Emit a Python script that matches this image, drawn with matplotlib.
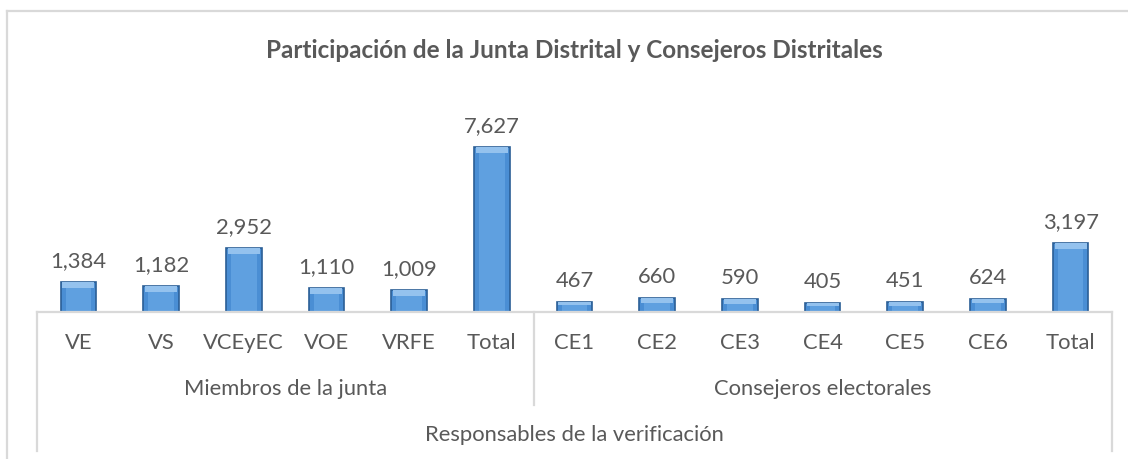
import numpy as np
import matplotlib
matplotlib.use("Agg")
import matplotlib.pyplot as plt
from matplotlib.lines import Line2D

# data
junta_labels = ["VE", "VS", "VCEyEC", "VOE", "VRFE", "Total"]
junta_values = [1384, 1182, 2952, 1110, 1009, 7627]
consejo_labels = ["CE1", "CE2", "CE3", "CE4", "CE5", "CE6", "Total"]
consejo_values = [467, 660, 590, 405, 451, 624, 3197]
group_labels = ["Miembros de la junta", "Consejeros electorales"]
outer_label = "Responsables de la verificación"
title = "Participación de la Junta Distrital y Consejeros Distritales"

labels = junta_labels + consejo_labels
values = np.array(junta_values + consejo_values, dtype=float)
x = np.arange(len(labels))

W, H = 1128, 459
fig = plt.figure(figsize=(W / 100, H / 100), dpi=100)
plt.rcParams['font.family'] = ['Lato', 'DejaVu Sans']
gray = "#595959"
line_gray = "#D9D9D9"
fs = 15.8

# axes: baseline at y=312px, from x=37 to 1112
ax_left, ax_right = 37 / W, 1112 / W
ax_bottom = 1 - 312 / H
ymax = 9000
px_per_unit = 165 / 7627
ax_h = ymax * px_per_unit / H
ax = fig.add_axes([ax_left, ax_bottom, ax_right - ax_left, ax_h])
ax.set_xlim(-0.5, len(labels) - 0.5)
ax.set_ylim(0, ymax)
ax.axis("off")

bw = 0.43
unit = 1 / px_per_unit  # data units per pixel
# main bars with darker edges
ax.bar(x, values, width=bw, color="#4A8ED4", edgecolor="#2B5F96", linewidth=1.2, zorder=2)
# inner lighter face
ax.bar(x, values - 3 * unit, width=bw * 0.72, color="#5FA0E0", linewidth=0, zorder=3)
# light top bevel
bev = np.minimum(6 * unit, values * 0.35)
ax.bar(x, bev, bottom=values - bev, width=bw * 0.9, color="#94C2EE", linewidth=0, zorder=4)

for xi, v in zip(x, values):
    ax.text(xi, v + 11 * unit, f"{int(v):,}", ha="center", va="bottom",
            fontsize=fs, color=gray, clip_on=False)

# frame and category axis lines in figure coords
def fx(px):
    return px / W

def fy(py):
    return 1 - py / H

lines = [
    ((7, 7), (11, 459)),        # outer frame left
    ((7, 1128), (11, 11)),      # outer frame top
    ((37, 1112), (312, 312)),   # baseline
    ((37, 37), (312, 451)),     # left
    ((1112, 1112), (312, 451)), # right
    ((534, 534), (312, 405)),   # group separator
]
for (x0, x1), (y0, y1) in lines:
    fig.add_artist(Line2D([fx(x0), fx(x1)], [fy(y0), fy(y1)], color=line_gray, linewidth=1.6))

# category labels
for xi, lab in zip(x, labels):
    xf = ax.transData.transform((xi, 0))[0] / W
    fig.text(xf, fy(343), lab, ha="center", va="center", fontsize=fs, color=gray)

# group labels
n1 = len(junta_labels)
g1 = ax.transData.transform(((n1 - 1) / 2, 0))[0] / W
g2 = ax.transData.transform((n1 + (len(consejo_labels) - 1) / 2, 0))[0] / W
fig.text(g1, fy(389), group_labels[0], ha="center", va="center", fontsize=fs, color=gray)
fig.text(g2, fy(389), group_labels[1], ha="center", va="center", fontsize=fs, color=gray)
fig.text((fx(37) + fx(1112)) / 2, fy(435), outer_label, ha="center", va="center",
         fontsize=fs, color=gray)

fig.text(fx(574), fy(50), title, ha="center", va="center", fontsize=17.5,
         fontweight="bold", color=gray)

fig.savefig("out.png", dpi=100)
